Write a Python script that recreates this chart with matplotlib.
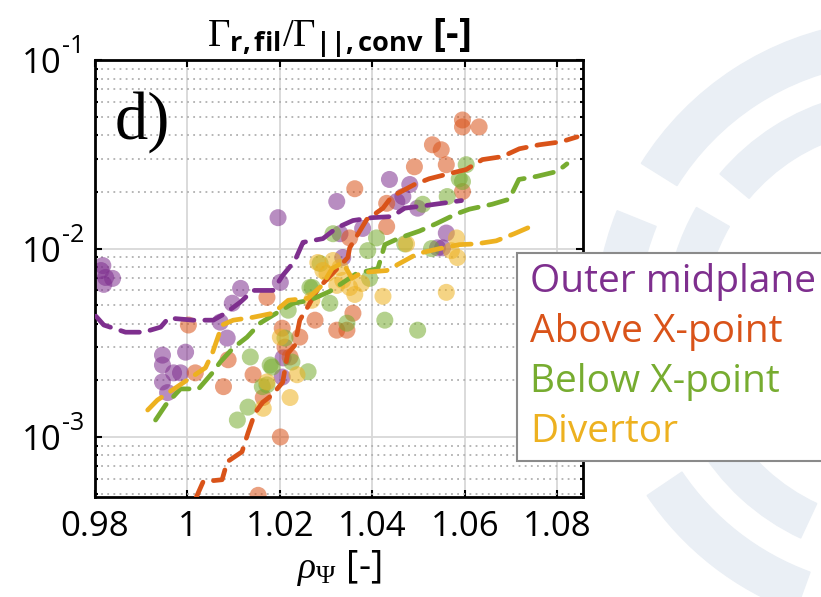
import matplotlib.pyplot as plt
import matplotlib.transforms as mtransforms
from matplotlib.patches import Wedge
from matplotlib.ticker import LogLocator, NullFormatter

plt.rcParams['font.family'] = ['Open Sans', 'DejaVu Sans']
plt.rcParams['mathtext.fontset'] = 'custom'
plt.rcParams['mathtext.rm'] = 'Liberation Serif'
plt.rcParams['mathtext.it'] = 'Liberation Serif:italic'
plt.rcParams['mathtext.bf'] = 'Open Sans:bold'
plt.rcParams['mathtext.sf'] = 'Open Sans'

# --- binned profiles (dashed lines) ---
omp_line_x = [0.9802, 0.9819, 0.9866, 0.9905, 0.9942, 0.9959, 1.0013, 1.0056, 1.0082, 1.0114,
              1.0142, 1.0185, 1.0206, 1.0232, 1.0250, 1.0293, 1.0323, 1.0358, 1.0399, 1.0442,
              1.0470, 1.0513, 1.0550, 1.0593]
omp_line_y = [4.38e-3, 3.93e-3, 3.60e-3, 3.60e-3, 3.83e-3, 4.28e-3, 4.17e-3, 4.17e-3, 4.54e-3, 5.19e-3,
              6.0e-3, 6.0e-3, 7.2e-3, 8.6e-3, 1.08e-2, 1.13e-2, 1.29e-2, 1.41e-2, 1.46e-2, 1.48e-2,
              1.64e-2, 1.69e-2, 1.74e-2, 1.80e-2]

abx_line_x = [1.0017, 1.0034, 1.0075, 1.0086, 1.0118, 1.0131, 1.0146, 1.0163, 1.0183, 1.0206,
              1.0217, 1.0232, 1.0243, 1.0258, 1.0280, 1.0293, 1.0347, 1.0351, 1.0388, 1.0399,
              1.0423, 1.0442, 1.0491, 1.0523, 1.0566, 1.0603, 1.0638, 1.0681, 1.0718, 1.0761,
              1.0808, 1.0843]
abx_line_y = [4.66e-4, 5.79e-4, 5.93e-4, 7.38e-4, 8.34e-4, 1.05e-3, 1.34e-3, 1.53e-3, 1.67e-3, 1.95e-3,
              2.78e-3, 3.06e-3, 4.17e-3, 4.80e-3, 6.0e-3, 6.53e-3, 8.97e-3, 1.01e-2, 1.43e-2, 1.49e-2,
              1.64e-2, 1.89e-2, 2.19e-2, 2.35e-2, 2.50e-2, 2.63e-2, 2.97e-2, 3.08e-2, 3.39e-2, 3.56e-2,
              3.69e-2, 3.92e-2]

blx_line_x = [0.9931, 0.9953, 0.9985, 1.0024, 1.0054, 1.0071, 1.0099, 1.0129, 1.0157, 1.0185,
              1.0228, 1.0265, 1.0308, 1.0366, 1.0412, 1.0427, 1.0459, 1.0502, 1.0539, 1.0582,
              1.0610, 1.0659, 1.0696, 1.0717, 1.0756, 1.0800, 1.0821]
blx_line_y = [1.23e-3, 1.48e-3, 1.80e-3, 1.80e-3, 2.19e-3, 2.50e-3, 2.97e-3, 3.39e-3, 4.02e-3, 4.43e-3,
              5.12e-3, 5.32e-3, 5.93e-3, 7.38e-3, 7.84e-3, 1.05e-2, 1.14e-2, 1.24e-2, 1.36e-2, 1.53e-2,
              1.62e-2, 1.72e-2, 1.83e-2, 2.33e-2, 2.42e-2, 2.57e-2, 2.82e-2]

div_line_x = [0.9914, 0.9935, 1.0039, 1.0054, 1.0075, 1.0099, 1.0142, 1.0185, 1.0218, 1.0261,
              1.0291, 1.0313, 1.0336, 1.0356, 1.0377, 1.0431, 1.0498, 1.0545, 1.0588, 1.0625,
              1.0668, 1.0707, 1.0746]
div_line_y = [1.39e-3, 1.57e-3, 2.33e-3, 2.79e-3, 3.93e-3, 4.17e-3, 4.32e-3, 4.54e-3, 5.32e-3, 5.45e-3,
              6.38e-3, 7.84e-3, 8.44e-3, 6.95e-3, 7.47e-3, 7.65e-3, 9.41e-3, 1.0e-2, 1.05e-2, 1.06e-2,
              1.10e-2, 1.20e-2, 1.32e-2]

# --- individual measurements (dots) ---
omp_pts_x = [0.9817, 0.9823, 0.9838, 0.9819, 0.9813, 0.9946, 0.9946, 0.9996, 0.9970, 0.9985,
             0.9946, 0.9957, 1.0071, 1.0086, 1.0097, 1.0115, 1.0196, 1.0201, 1.0207, 1.0205,
             1.0323, 1.0330, 1.0336, 1.0379, 1.0437, 1.0453, 1.0481, 1.0466, 1.0498, 1.0541,
             1.0552, 1.0560]
omp_pts_y = [8.13e-3, 7.03e-3, 6.95e-3, 6.46e-3, 7.65e-3, 2.72e-3, 2.41e-3, 2.82e-3, 2.19e-3, 2.19e-3,
             1.96e-3, 1.72e-3, 4.07e-3, 3.35e-3, 5.13e-3, 6.15e-3, 1.46e-2, 6.62e-3, 2.63e-3, 2.08e-3,
             1.78e-2, 1.20e-2, 8.97e-3, 1.28e-2, 2.33e-2, 1.78e-2, 2.19e-2, 1.89e-2, 1.64e-2, 1.01e-2,
             1.01e-2, 1.21e-2]

abx_pts_x = [1.0002, 1.0017, 1.0078, 1.0088, 1.0142, 1.0164, 1.0172, 1.0201, 1.0153, 1.0205,
             1.0211, 1.0222, 1.0243, 1.0276, 1.0323, 1.0345, 1.0358, 1.0351, 1.0362, 1.0431,
             1.0431, 1.0491, 1.0530, 1.0549, 1.0560, 1.0595, 1.0595, 1.0631, 1.0595]
abx_pts_y = [3.93e-3, 2.19e-3, 1.85e-3, 2.57e-3, 2.14e-3, 1.62e-3, 5.51e-3, 1.0e-3, 4.9e-4, 3.78e-3,
             3.0e-3, 2.66e-3, 3.39e-3, 4.17e-3, 3.69e-3, 3.69e-3, 4.54e-3, 1.14e-2, 2.08e-2, 1.31e-2,
             1.74e-2, 2.72e-2, 3.56e-2, 3.35e-2, 2.79e-2, 4.82e-2, 4.43e-2, 4.43e-2, 2.01e-2]

blx_pts_x = [1.0108, 1.0131, 1.0136, 1.0162, 1.0172, 1.0179, 1.0183, 1.0211, 1.0218, 1.0226,
             1.0261, 1.0265, 1.0270, 1.0287, 1.0308, 1.0315, 1.0345, 1.0390, 1.0394, 1.0409,
             1.0427, 1.0470, 1.0498, 1.0509, 1.0528, 1.0562, 1.0588, 1.0595, 1.0603]
blx_pts_y = [1.23e-3, 1.44e-3, 2.66e-3, 1.85e-3, 1.89e-3, 2.41e-3, 2.35e-3, 3.35e-3, 4.71e-3, 2.50e-3,
             2.22e-3, 6.22e-3, 6.22e-3, 8.34e-3, 5.13e-3, 1.20e-2, 4.02e-3, 9.76e-3, 6.95e-3, 1.14e-2,
             4.17e-3, 1.06e-2, 3.69e-3, 1.72e-2, 1.0e-2, 1.89e-2, 2.35e-2, 2.27e-2, 2.79e-2]

div_pts_x = [1.0164, 1.0172, 1.0201, 1.0222, 1.0237, 1.0269, 1.0282, 1.0293, 1.0302, 1.0315,
             1.0323, 1.0330, 1.0336, 1.0351, 1.0362, 1.0377, 1.0423, 1.0474, 1.0560, 1.0571,
             1.0582, 1.0584]
div_pts_y = [1.42e-3, 1.96e-3, 3.39e-3, 1.62e-3, 2.14e-3, 5.32e-3, 8.44e-3, 7.65e-3, 7.38e-3, 8.65e-3,
             6.38e-3, 7.94e-3, 6.78e-3, 6.22e-3, 5.71e-3, 6.53e-3, 5.58e-3, 1.06e-2, 5.86e-3, 9.76e-3,
             1.14e-2, 8.97e-3]

series_names = ['Outer midplane', 'Above X-point', 'Below X-point', 'Divertor']
series_colors = ['#7E2F8E', '#D95319', '#77AC30', '#EDB120']

xtick_vals = [0.98, 1.0, 1.02, 1.04, 1.06, 1.08]
xtick_labels = ['0.98', '1', '1.02', '1.04', '1.06', '1.08']
ytick_vals = [1e-3, 1e-2, 1e-1]
ytick_exps = ['-3', '-2', '-1']

# --- Figure ---
fig = plt.figure(figsize=(8.21, 5.97), dpi=100)

# faint logo rings in the background (right side)
ring_col = '#eaeff5'
for th1, th2 in [(98, 148), (158, 205), (214, 250)]:
    fig.patches.append(Wedge((9.0, 2.72), 3.05, th1, th2, width=0.42, color=ring_col,
                             transform=fig.dpi_scale_trans, zorder=0))
for th1, th2 in [(105, 140), (150, 200), (210, 245)]:
    fig.patches.append(Wedge((9.0, 2.72), 2.35, th1, th2, width=0.38, color=ring_col,
                             transform=fig.dpi_scale_trans, zorder=0))

ax = fig.add_axes([0.1157, 0.1675, 0.594, 0.7315])

pts = [(omp_pts_x, omp_pts_y), (abx_pts_x, abx_pts_y), (blx_pts_x, blx_pts_y), (div_pts_x, div_pts_y)]
lines = [(omp_line_x, omp_line_y), (abx_line_x, abx_line_y), (blx_line_x, blx_line_y), (div_line_x, div_line_y)]

for (px, py), c in zip(pts, series_colors):
    ax.scatter(px, py, s=150, color=c, alpha=0.55, edgecolors='none', zorder=2)

for (lx, ly), c, name in zip(lines, series_colors, series_names):
    ax.plot(lx, ly, color=c, lw=3.4, dashes=(4.0, 2.3), dash_capstyle='round',
            label=name, zorder=3)

ax.set_yscale('log')
ax.set_xlim(0.98, 1.0855)
ax.set_ylim(4.8e-4, 0.1)
ax.set_xticks(xtick_vals, labels=xtick_labels)
ax.set_yticks(ytick_vals, labels=['' for _ in ytick_vals])
ax.yaxis.set_minor_locator(LogLocator(base=10, subs=range(2, 10)))
ax.yaxis.set_minor_formatter(NullFormatter())

# y tick labels as "10" with a raised exponent
ylab_tr = mtransforms.blended_transform_factory(ax.transAxes, ax.transData)
for v, e in zip(ytick_vals, ytick_exps):
    ax.annotate('10', xy=(0, v), xycoords=ylab_tr, xytext=(-33, -4),
                textcoords='offset pixels', ha='right', va='center', fontsize=25,
                annotation_clip=False)
    ax.annotate(e, xy=(0, v), xycoords=ylab_tr, xytext=(-33, 1),
                textcoords='offset pixels', ha='left', va='bottom', fontsize=18,
                annotation_clip=False)

ax.grid(True, which='major', color='#d8d8d8', lw=1.3, ls='-')
ax.grid(True, which='minor', axis='y', color='#b0b0b0', lw=1.3, ls=(0, (1.0, 2.4)))
ax.set_axisbelow(True)

ax.tick_params(which='both', direction='in', top=True, right=True, width=1.5)
ax.tick_params(which='major', length=5, labelsize=25)
ax.tick_params(axis='x', which='major', pad=9)
ax.tick_params(which='minor', length=2.5)
for s in ax.spines.values():
    s.set_linewidth(2)

ax.set_title(r'$\Gamma_{\mathbf{r,fil}}/\Gamma_{\mathbf{||,conv}}$ [-]', fontsize=28,
             fontweight='bold', pad=3)
ax.set_xlabel(r'$\rho_\Psi$ [-]', fontsize=27, labelpad=3)

ax.text(0.04, 0.93, 'd)', transform=ax.transAxes, fontsize=48, family='Liberation Serif',
        va='top', ha='left')

leg = fig.legend(loc='upper left', bbox_to_anchor=(0.630, 0.577), fontsize=28,
                 handlelength=0, handletextpad=0.08, labelspacing=0.31, fancybox=False,
                 framealpha=1, edgecolor='#8a8a8a', borderpad=0.26, borderaxespad=0)
leg.get_frame().set_linewidth(1.5)
for h in leg.legend_handles:
    h.set_visible(False)
for t, c in zip(leg.get_texts(), series_colors):
    t.set_color(c)

fig.savefig('out.png', dpi=100)
